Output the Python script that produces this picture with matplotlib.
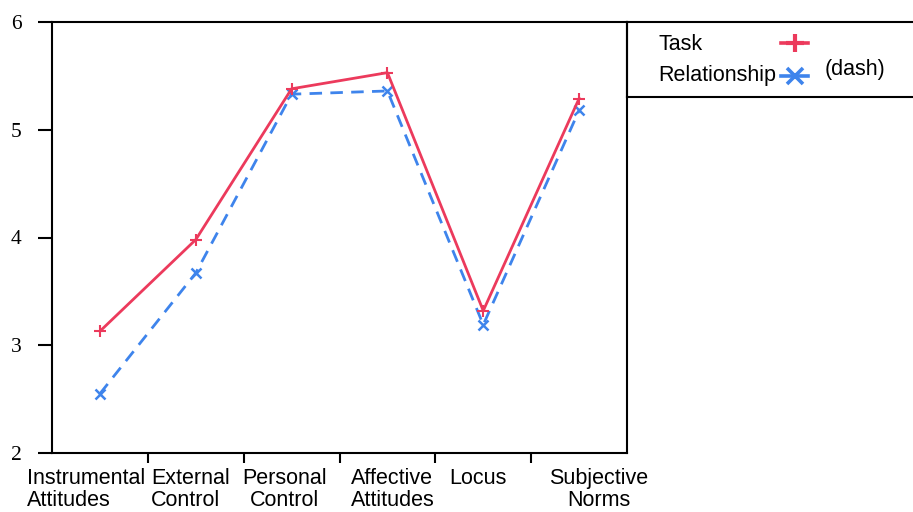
import matplotlib
matplotlib.use("Agg")
import matplotlib.pyplot as plt
from matplotlib.transforms import offset_copy

# Mean scores per attitude category for the two leadership styles
categories = ["Instrumental\nAttitudes", "External\nControl", "Personal\nControl",
              "Affective\nAttitudes", "Locus", "Subjective\nNorms"]
task = [3.13, 3.98, 5.38, 5.53, 3.32, 5.29]
relationship = [2.55, 3.67, 5.33, 5.36, 3.19, 5.18]
y_ticks = [2, 3, 4, 5, 6]

RED = "#EC3A5C"
BLUE = "#3E84EC"
SANS = "Liberation Sans"
SERIF = "Liberation Serif"

W, H = 913, 512
fig = plt.figure(figsize=(W / 100, H / 100), dpi=100)

# main plotting area (pixel box 52..627 x 22..453)
ax = fig.add_axes([52 / W, (H - 453) / H, (627 - 52) / W, (453 - 22) / H])
xs = list(range(len(categories)))

ax.plot(xs, task, color=RED, lw=2.0, marker="+", ms=9, mew=1.5, zorder=3)
ax.plot(xs, relationship, color=BLUE, lw=2.0, ls=(0, (4.5, 3)), marker="x",
        ms=7.5, mew=1.8, zorder=2)

ax.set_xlim(-0.5, len(categories) - 0.5)
ax.set_ylim(y_ticks[0], y_ticks[-1])

for s in ax.spines.values():
    s.set_linewidth(1.5)
    s.set_color("black")

# y axis: serif numbers, long outward ticks
ax.set_yticks(y_ticks)
ax.set_yticklabels([str(v) for v in y_ticks], fontfamily=SERIF, fontsize=15.5)
ax.tick_params(axis="y", direction="out", length=10, width=1.5, pad=12)

# x axis: separator ticks between categories, labels drawn as text
ax.set_xticks([i + 0.5 for i in xs[:-1]])
ax.set_xticklabels([])
ax.tick_params(axis="x", direction="out", length=7.5, width=1.5)

label_style = [  # (horizontal offset in px, alignment)
    (-73, "left"), (-45, "left"), (-7, "center"),
    (5, "center"), (-5, "center"), (20, "center"),
]
for i, (lab, (dx, ha)) in enumerate(zip(categories, label_style)):
    tr = offset_copy(ax.get_xaxis_transform(), fig=fig, x=dx, y=-15, units="dots")
    ax.text(i, 0, lab, transform=tr, ha=ha, va="top", multialignment=ha,
            fontfamily=SANS, fontsize=15.5, linespacing=1.05, clip_on=False)

# legend box to the right of the plot, in pixel coordinates
lg = fig.add_axes([627 / W, (H - 97) / H, (925 - 627) / W, (97 - 22) / H])
lg.set_xlim(627, 925)
lg.set_ylim(97, 22)
lg.set_xticks([])
lg.set_yticks([])
lg.patch.set_alpha(0)
for s in lg.spines.values():
    s.set_linewidth(1.5)
    s.set_color("black")

lg.text(658, 45, "Task", ha="left", va="center", fontfamily=SANS, fontsize=15.5)
lg.text(658, 76, "Relationship", ha="left", va="center", fontfamily=SANS, fontsize=15.5)
lg.text(825, 70, "(dash)", ha="left", va="center", fontfamily=SANS, fontsize=15.5)
lg.plot([781, 794.5, 808], [43, 43, 43], color=RED, lw=2.6, marker="+",
        ms=13, mew=3.0, markevery=[1], clip_on=False)
lg.plot([781, 794.5, 808], [76, 76, 76], color=BLUE, lw=2.6, marker="x",
        ms=11, mew=2.6, markevery=[1], clip_on=False)

fig.savefig("out.png", dpi=100, facecolor="white")
